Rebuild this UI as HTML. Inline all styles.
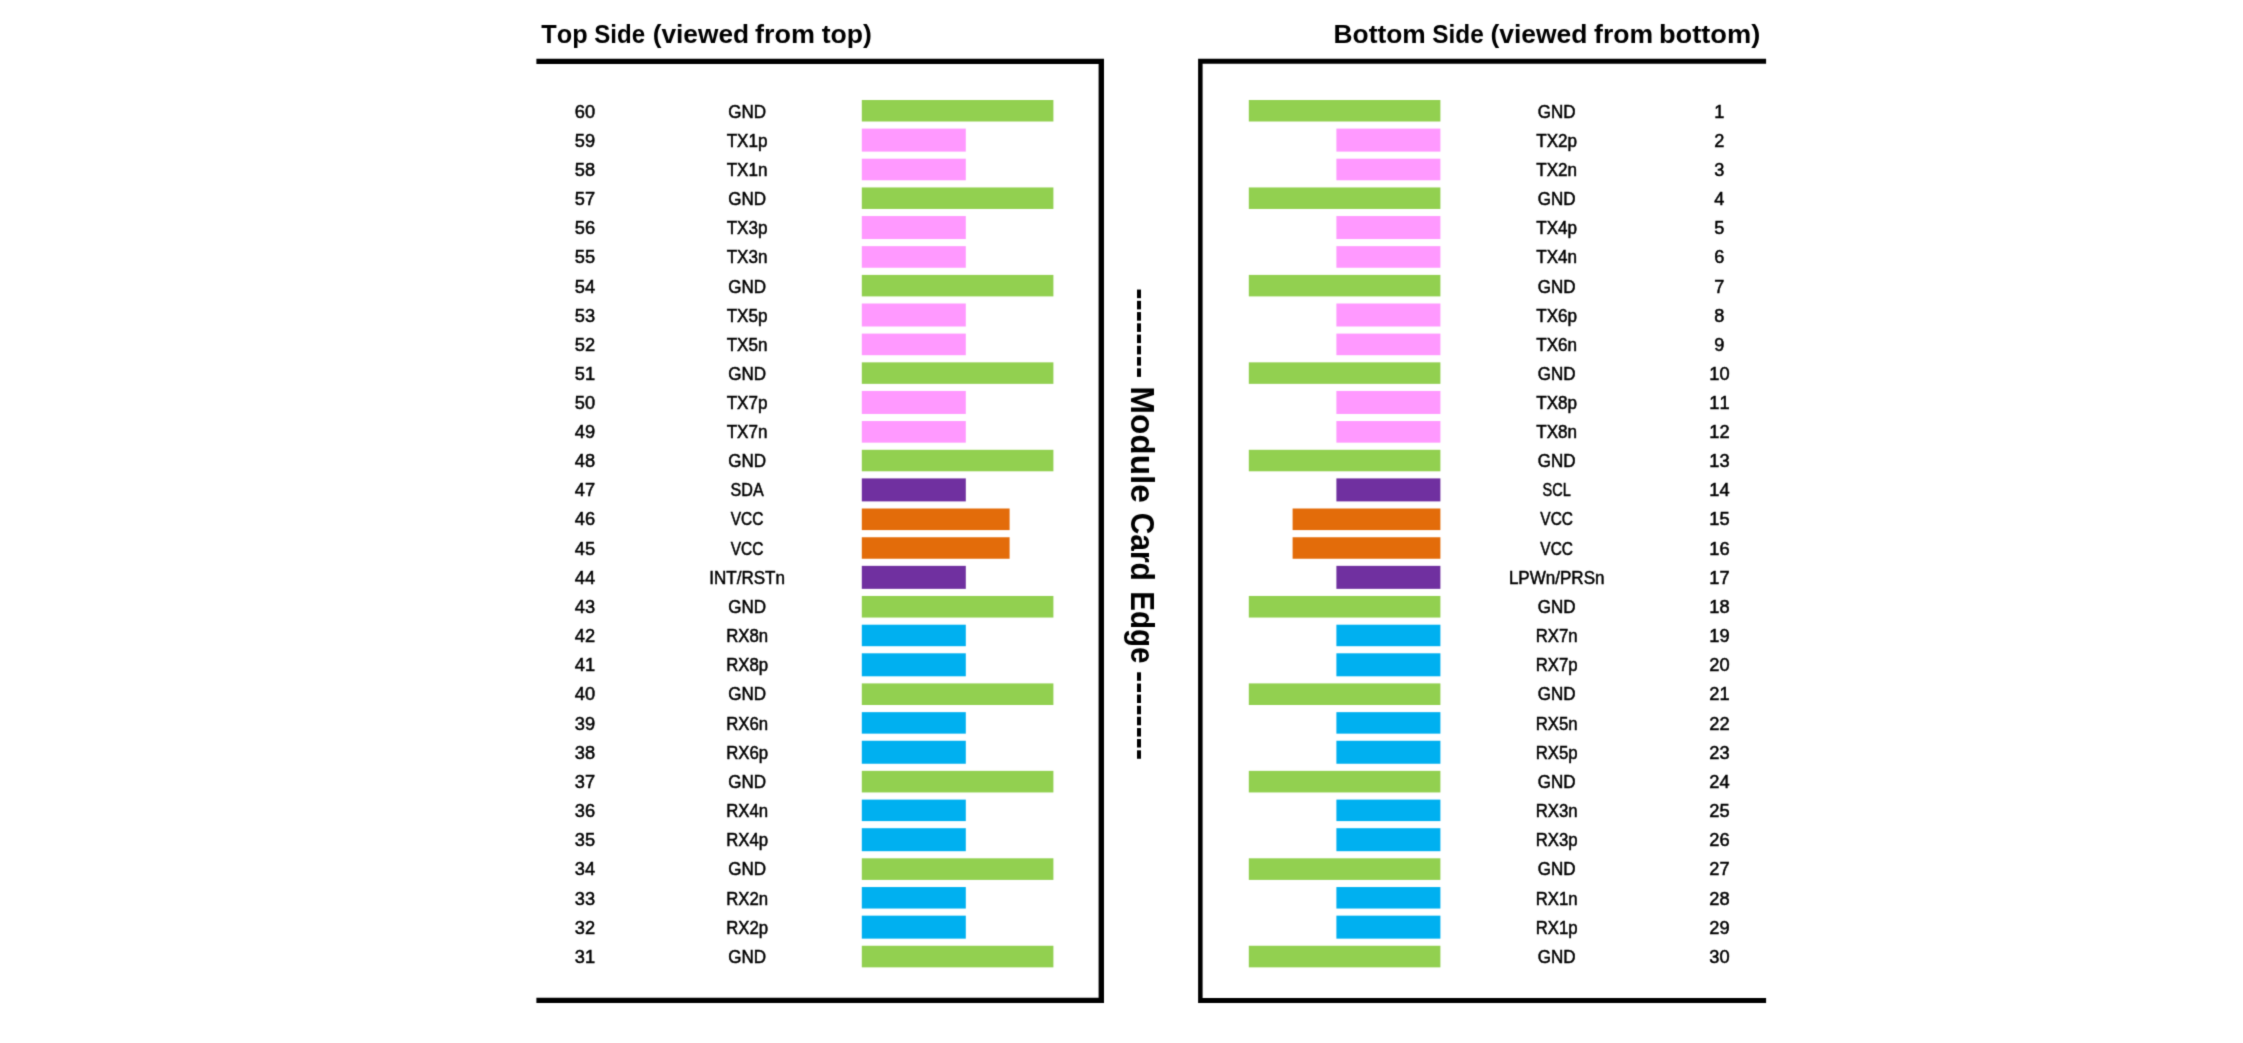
<!DOCTYPE html>
<html lang="en"><head><meta charset="utf-8"><title>Module Card Edge Pinout</title>
<style>html,body{margin:0;padding:0;background:#fff}body{width:2243px;height:1043px;overflow:hidden}svg{display:block}text{font-family:"Liberation Sans",sans-serif;fill:#000;font-kerning:none}.l{font-size:18px;text-anchor:middle;stroke:#000;stroke-width:.5px}.t{font-size:26px;font-weight:bold}.m{font-size:32.6px;font-weight:bold}</style></head><body>
<svg width="2243" height="1043" viewBox="0 0 2243 1043">
<defs><filter id="soft" filterUnits="userSpaceOnUse" x="0" y="0" width="2243" height="1043" color-interpolation-filters="sRGB"><feConvolveMatrix order="3" kernelMatrix="0.0196 0.1008 0.0196 0.1008 0.5184 0.1008 0.0196 0.1008 0.0196" edgeMode="duplicate" preserveAlpha="true"/></filter></defs>
<g filter="url(#soft)">
<rect width="2243" height="1043" fill="#fff"/>
<text class="t"><tspan x="541.32" y="43.00" textLength="46.32" lengthAdjust="spacingAndGlyphs">Top</tspan> <tspan x="594.31" y="43.00" textLength="50.82" lengthAdjust="spacingAndGlyphs">Side</tspan> <tspan x="652.69" y="43.00" textLength="96.44" lengthAdjust="spacingAndGlyphs">(viewed</tspan> <tspan x="754.94" y="43.00" textLength="59.93" lengthAdjust="spacingAndGlyphs">from</tspan> <tspan x="821.68" y="43.00" textLength="50.25" lengthAdjust="spacingAndGlyphs">top)</tspan></text>
<text class="t"><tspan x="1333.54" y="43.00" textLength="92.20" lengthAdjust="spacingAndGlyphs">Bottom</tspan> <tspan x="1432.20" y="43.00" textLength="51.54" lengthAdjust="spacingAndGlyphs">Side</tspan> <tspan x="1490.38" y="43.00" textLength="97.06" lengthAdjust="spacingAndGlyphs">(viewed</tspan> <tspan x="1594.05" y="43.00" textLength="59.00" lengthAdjust="spacingAndGlyphs">from</tspan> <tspan x="1658.90" y="43.00" textLength="101.46" lengthAdjust="spacingAndGlyphs">bottom)</tspan></text>
<path fill="#000" d="M536.4 58.8H1104V1003.1H536.4V997.8H1098.6V63.9H536.4Z"/>
<path fill="#000" d="M1766.1 58.7H1198.1V1003.1H1766.1V997.9H1202.6V63.8H1766.1Z"/>
<rect x="861.8" y="100.00" width="191.6" height="21.50" fill="#92d050"/>
<rect x="1248.8" y="100.00" width="191.6" height="21.50" fill="#92d050"/>
<rect x="861.8" y="128.60" width="104.0" height="23.00" fill="#ff99ff"/>
<rect x="1336.4" y="128.60" width="104.0" height="23.00" fill="#ff99ff"/>
<rect x="861.8" y="158.70" width="104.0" height="21.60" fill="#ff99ff"/>
<rect x="1336.4" y="158.70" width="104.0" height="21.60" fill="#ff99ff"/>
<rect x="861.8" y="187.45" width="191.6" height="21.50" fill="#92d050"/>
<rect x="1248.8" y="187.45" width="191.6" height="21.50" fill="#92d050"/>
<rect x="861.8" y="216.05" width="104.0" height="23.00" fill="#ff99ff"/>
<rect x="1336.4" y="216.05" width="104.0" height="23.00" fill="#ff99ff"/>
<rect x="861.8" y="246.15" width="104.0" height="21.60" fill="#ff99ff"/>
<rect x="1336.4" y="246.15" width="104.0" height="21.60" fill="#ff99ff"/>
<rect x="861.8" y="274.90" width="191.6" height="21.50" fill="#92d050"/>
<rect x="1248.8" y="274.90" width="191.6" height="21.50" fill="#92d050"/>
<rect x="861.8" y="303.50" width="104.0" height="23.00" fill="#ff99ff"/>
<rect x="1336.4" y="303.50" width="104.0" height="23.00" fill="#ff99ff"/>
<rect x="861.8" y="333.60" width="104.0" height="21.60" fill="#ff99ff"/>
<rect x="1336.4" y="333.60" width="104.0" height="21.60" fill="#ff99ff"/>
<rect x="861.8" y="362.35" width="191.6" height="21.50" fill="#92d050"/>
<rect x="1248.8" y="362.35" width="191.6" height="21.50" fill="#92d050"/>
<rect x="861.8" y="390.95" width="104.0" height="23.00" fill="#ff99ff"/>
<rect x="1336.4" y="390.95" width="104.0" height="23.00" fill="#ff99ff"/>
<rect x="861.8" y="421.05" width="104.0" height="21.60" fill="#ff99ff"/>
<rect x="1336.4" y="421.05" width="104.0" height="21.60" fill="#ff99ff"/>
<rect x="861.8" y="449.80" width="191.6" height="21.50" fill="#92d050"/>
<rect x="1248.8" y="449.80" width="191.6" height="21.50" fill="#92d050"/>
<rect x="861.8" y="478.40" width="104.0" height="23.00" fill="#7030a0"/>
<rect x="1336.4" y="478.40" width="104.0" height="23.00" fill="#7030a0"/>
<rect x="861.8" y="508.50" width="147.8" height="21.60" fill="#e36c0a"/>
<rect x="1292.6" y="508.50" width="147.8" height="21.60" fill="#e36c0a"/>
<rect x="861.8" y="537.25" width="147.8" height="21.50" fill="#e36c0a"/>
<rect x="1292.6" y="537.25" width="147.8" height="21.50" fill="#e36c0a"/>
<rect x="861.8" y="565.85" width="104.0" height="23.00" fill="#7030a0"/>
<rect x="1336.4" y="565.85" width="104.0" height="23.00" fill="#7030a0"/>
<rect x="861.8" y="595.95" width="191.6" height="21.60" fill="#92d050"/>
<rect x="1248.8" y="595.95" width="191.6" height="21.60" fill="#92d050"/>
<rect x="861.8" y="624.70" width="104.0" height="21.50" fill="#00b0f0"/>
<rect x="1336.4" y="624.70" width="104.0" height="21.50" fill="#00b0f0"/>
<rect x="861.8" y="653.30" width="104.0" height="23.00" fill="#00b0f0"/>
<rect x="1336.4" y="653.30" width="104.0" height="23.00" fill="#00b0f0"/>
<rect x="861.8" y="683.40" width="191.6" height="21.60" fill="#92d050"/>
<rect x="1248.8" y="683.40" width="191.6" height="21.60" fill="#92d050"/>
<rect x="861.8" y="712.15" width="104.0" height="21.50" fill="#00b0f0"/>
<rect x="1336.4" y="712.15" width="104.0" height="21.50" fill="#00b0f0"/>
<rect x="861.8" y="740.75" width="104.0" height="23.00" fill="#00b0f0"/>
<rect x="1336.4" y="740.75" width="104.0" height="23.00" fill="#00b0f0"/>
<rect x="861.8" y="770.85" width="191.6" height="21.60" fill="#92d050"/>
<rect x="1248.8" y="770.85" width="191.6" height="21.60" fill="#92d050"/>
<rect x="861.8" y="799.60" width="104.0" height="21.50" fill="#00b0f0"/>
<rect x="1336.4" y="799.60" width="104.0" height="21.50" fill="#00b0f0"/>
<rect x="861.8" y="828.20" width="104.0" height="23.00" fill="#00b0f0"/>
<rect x="1336.4" y="828.20" width="104.0" height="23.00" fill="#00b0f0"/>
<rect x="861.8" y="858.30" width="191.6" height="21.60" fill="#92d050"/>
<rect x="1248.8" y="858.30" width="191.6" height="21.60" fill="#92d050"/>
<rect x="861.8" y="887.05" width="104.0" height="21.50" fill="#00b0f0"/>
<rect x="1336.4" y="887.05" width="104.0" height="21.50" fill="#00b0f0"/>
<rect x="861.8" y="915.65" width="104.0" height="23.00" fill="#00b0f0"/>
<rect x="1336.4" y="915.65" width="104.0" height="23.00" fill="#00b0f0"/>
<rect x="861.8" y="945.75" width="191.6" height="21.60" fill="#92d050"/>
<rect x="1248.8" y="945.75" width="191.6" height="21.60" fill="#92d050"/>
<text class="l" x="584.9" y="117.60" textLength="20.3" lengthAdjust="spacingAndGlyphs">60</text>
<text class="l" x="747.1" y="117.60" textLength="37.8" lengthAdjust="spacingAndGlyphs">GND</text>
<text class="l" x="1556.7" y="117.60" textLength="37.8" lengthAdjust="spacingAndGlyphs">GND</text>
<text class="l" x="1719.4" y="117.60" textLength="10.1" lengthAdjust="spacingAndGlyphs">1</text>
<text class="l" x="584.9" y="146.60" textLength="20.3" lengthAdjust="spacingAndGlyphs">59</text>
<text class="l" x="747.1" y="146.60" textLength="40.8" lengthAdjust="spacingAndGlyphs">TX1p</text>
<text class="l" x="1556.7" y="146.60" textLength="40.8" lengthAdjust="spacingAndGlyphs">TX2p</text>
<text class="l" x="1719.4" y="146.60" textLength="10.1" lengthAdjust="spacingAndGlyphs">2</text>
<text class="l" x="584.9" y="175.60" textLength="20.3" lengthAdjust="spacingAndGlyphs">58</text>
<text class="l" x="747.1" y="175.60" textLength="40.8" lengthAdjust="spacingAndGlyphs">TX1n</text>
<text class="l" x="1556.7" y="175.60" textLength="40.8" lengthAdjust="spacingAndGlyphs">TX2n</text>
<text class="l" x="1719.4" y="175.60" textLength="10.1" lengthAdjust="spacingAndGlyphs">3</text>
<text class="l" x="584.9" y="205.05" textLength="20.3" lengthAdjust="spacingAndGlyphs">57</text>
<text class="l" x="747.1" y="205.05" textLength="37.8" lengthAdjust="spacingAndGlyphs">GND</text>
<text class="l" x="1556.7" y="205.05" textLength="37.8" lengthAdjust="spacingAndGlyphs">GND</text>
<text class="l" x="1719.4" y="205.05" textLength="10.1" lengthAdjust="spacingAndGlyphs">4</text>
<text class="l" x="584.9" y="234.05" textLength="20.3" lengthAdjust="spacingAndGlyphs">56</text>
<text class="l" x="747.1" y="234.05" textLength="40.8" lengthAdjust="spacingAndGlyphs">TX3p</text>
<text class="l" x="1556.7" y="234.05" textLength="40.8" lengthAdjust="spacingAndGlyphs">TX4p</text>
<text class="l" x="1719.4" y="234.05" textLength="10.1" lengthAdjust="spacingAndGlyphs">5</text>
<text class="l" x="584.9" y="263.05" textLength="20.3" lengthAdjust="spacingAndGlyphs">55</text>
<text class="l" x="747.1" y="263.05" textLength="40.8" lengthAdjust="spacingAndGlyphs">TX3n</text>
<text class="l" x="1556.7" y="263.05" textLength="40.8" lengthAdjust="spacingAndGlyphs">TX4n</text>
<text class="l" x="1719.4" y="263.05" textLength="10.1" lengthAdjust="spacingAndGlyphs">6</text>
<text class="l" x="584.9" y="292.50" textLength="20.3" lengthAdjust="spacingAndGlyphs">54</text>
<text class="l" x="747.1" y="292.50" textLength="37.8" lengthAdjust="spacingAndGlyphs">GND</text>
<text class="l" x="1556.7" y="292.50" textLength="37.8" lengthAdjust="spacingAndGlyphs">GND</text>
<text class="l" x="1719.4" y="292.50" textLength="10.1" lengthAdjust="spacingAndGlyphs">7</text>
<text class="l" x="584.9" y="321.50" textLength="20.3" lengthAdjust="spacingAndGlyphs">53</text>
<text class="l" x="747.1" y="321.50" textLength="40.8" lengthAdjust="spacingAndGlyphs">TX5p</text>
<text class="l" x="1556.7" y="321.50" textLength="40.8" lengthAdjust="spacingAndGlyphs">TX6p</text>
<text class="l" x="1719.4" y="321.50" textLength="10.1" lengthAdjust="spacingAndGlyphs">8</text>
<text class="l" x="584.9" y="350.50" textLength="20.3" lengthAdjust="spacingAndGlyphs">52</text>
<text class="l" x="747.1" y="350.50" textLength="40.8" lengthAdjust="spacingAndGlyphs">TX5n</text>
<text class="l" x="1556.7" y="350.50" textLength="40.8" lengthAdjust="spacingAndGlyphs">TX6n</text>
<text class="l" x="1719.4" y="350.50" textLength="10.1" lengthAdjust="spacingAndGlyphs">9</text>
<text class="l" x="584.9" y="379.95" textLength="20.3" lengthAdjust="spacingAndGlyphs">51</text>
<text class="l" x="747.1" y="379.95" textLength="37.8" lengthAdjust="spacingAndGlyphs">GND</text>
<text class="l" x="1556.7" y="379.95" textLength="37.8" lengthAdjust="spacingAndGlyphs">GND</text>
<text class="l" x="1719.4" y="379.95" textLength="20.3" lengthAdjust="spacingAndGlyphs">10</text>
<text class="l" x="584.9" y="408.95" textLength="20.3" lengthAdjust="spacingAndGlyphs">50</text>
<text class="l" x="747.1" y="408.95" textLength="40.8" lengthAdjust="spacingAndGlyphs">TX7p</text>
<text class="l" x="1556.7" y="408.95" textLength="40.8" lengthAdjust="spacingAndGlyphs">TX8p</text>
<text class="l" x="1719.4" y="408.95" textLength="20.3" lengthAdjust="spacingAndGlyphs">11</text>
<text class="l" x="584.9" y="437.95" textLength="20.3" lengthAdjust="spacingAndGlyphs">49</text>
<text class="l" x="747.1" y="437.95" textLength="40.8" lengthAdjust="spacingAndGlyphs">TX7n</text>
<text class="l" x="1556.7" y="437.95" textLength="40.8" lengthAdjust="spacingAndGlyphs">TX8n</text>
<text class="l" x="1719.4" y="437.95" textLength="20.3" lengthAdjust="spacingAndGlyphs">12</text>
<text class="l" x="584.9" y="467.40" textLength="20.3" lengthAdjust="spacingAndGlyphs">48</text>
<text class="l" x="747.1" y="467.40" textLength="37.8" lengthAdjust="spacingAndGlyphs">GND</text>
<text class="l" x="1556.7" y="467.40" textLength="37.8" lengthAdjust="spacingAndGlyphs">GND</text>
<text class="l" x="1719.4" y="467.40" textLength="20.3" lengthAdjust="spacingAndGlyphs">13</text>
<text class="l" x="584.9" y="496.40" textLength="20.3" lengthAdjust="spacingAndGlyphs">47</text>
<text class="l" x="747.1" y="496.40" textLength="33.1" lengthAdjust="spacingAndGlyphs">SDA</text>
<text class="l" x="1556.7" y="496.40" textLength="28.2" lengthAdjust="spacingAndGlyphs">SCL</text>
<text class="l" x="1719.4" y="496.40" textLength="20.3" lengthAdjust="spacingAndGlyphs">14</text>
<text class="l" x="584.9" y="525.40" textLength="20.3" lengthAdjust="spacingAndGlyphs">46</text>
<text class="l" x="747.1" y="525.40" textLength="32.7" lengthAdjust="spacingAndGlyphs">VCC</text>
<text class="l" x="1556.7" y="525.40" textLength="32.7" lengthAdjust="spacingAndGlyphs">VCC</text>
<text class="l" x="1719.4" y="525.40" textLength="20.3" lengthAdjust="spacingAndGlyphs">15</text>
<text class="l" x="584.9" y="554.85" textLength="20.3" lengthAdjust="spacingAndGlyphs">45</text>
<text class="l" x="747.1" y="554.85" textLength="32.7" lengthAdjust="spacingAndGlyphs">VCC</text>
<text class="l" x="1556.7" y="554.85" textLength="32.7" lengthAdjust="spacingAndGlyphs">VCC</text>
<text class="l" x="1719.4" y="554.85" textLength="20.3" lengthAdjust="spacingAndGlyphs">16</text>
<text class="l" x="584.9" y="583.85" textLength="20.3" lengthAdjust="spacingAndGlyphs">44</text>
<text class="l" x="747.1" y="583.85" textLength="75.7" lengthAdjust="spacingAndGlyphs">INT/RSTn</text>
<text class="l" x="1556.7" y="583.85" textLength="95.6" lengthAdjust="spacingAndGlyphs">LPWn/PRSn</text>
<text class="l" x="1719.4" y="583.85" textLength="20.3" lengthAdjust="spacingAndGlyphs">17</text>
<text class="l" x="584.9" y="612.85" textLength="20.3" lengthAdjust="spacingAndGlyphs">43</text>
<text class="l" x="747.1" y="612.85" textLength="37.8" lengthAdjust="spacingAndGlyphs">GND</text>
<text class="l" x="1556.7" y="612.85" textLength="37.8" lengthAdjust="spacingAndGlyphs">GND</text>
<text class="l" x="1719.4" y="612.85" textLength="20.3" lengthAdjust="spacingAndGlyphs">18</text>
<text class="l" x="584.9" y="642.30" textLength="20.3" lengthAdjust="spacingAndGlyphs">42</text>
<text class="l" x="747.1" y="642.30" textLength="41.9" lengthAdjust="spacingAndGlyphs">RX8n</text>
<text class="l" x="1556.7" y="642.30" textLength="41.9" lengthAdjust="spacingAndGlyphs">RX7n</text>
<text class="l" x="1719.4" y="642.30" textLength="20.3" lengthAdjust="spacingAndGlyphs">19</text>
<text class="l" x="584.9" y="671.30" textLength="20.3" lengthAdjust="spacingAndGlyphs">41</text>
<text class="l" x="747.1" y="671.30" textLength="41.9" lengthAdjust="spacingAndGlyphs">RX8p</text>
<text class="l" x="1556.7" y="671.30" textLength="41.9" lengthAdjust="spacingAndGlyphs">RX7p</text>
<text class="l" x="1719.4" y="671.30" textLength="20.3" lengthAdjust="spacingAndGlyphs">20</text>
<text class="l" x="584.9" y="700.30" textLength="20.3" lengthAdjust="spacingAndGlyphs">40</text>
<text class="l" x="747.1" y="700.30" textLength="37.8" lengthAdjust="spacingAndGlyphs">GND</text>
<text class="l" x="1556.7" y="700.30" textLength="37.8" lengthAdjust="spacingAndGlyphs">GND</text>
<text class="l" x="1719.4" y="700.30" textLength="20.3" lengthAdjust="spacingAndGlyphs">21</text>
<text class="l" x="584.9" y="729.75" textLength="20.3" lengthAdjust="spacingAndGlyphs">39</text>
<text class="l" x="747.1" y="729.75" textLength="41.9" lengthAdjust="spacingAndGlyphs">RX6n</text>
<text class="l" x="1556.7" y="729.75" textLength="41.9" lengthAdjust="spacingAndGlyphs">RX5n</text>
<text class="l" x="1719.4" y="729.75" textLength="20.3" lengthAdjust="spacingAndGlyphs">22</text>
<text class="l" x="584.9" y="758.75" textLength="20.3" lengthAdjust="spacingAndGlyphs">38</text>
<text class="l" x="747.1" y="758.75" textLength="41.9" lengthAdjust="spacingAndGlyphs">RX6p</text>
<text class="l" x="1556.7" y="758.75" textLength="41.9" lengthAdjust="spacingAndGlyphs">RX5p</text>
<text class="l" x="1719.4" y="758.75" textLength="20.3" lengthAdjust="spacingAndGlyphs">23</text>
<text class="l" x="584.9" y="787.75" textLength="20.3" lengthAdjust="spacingAndGlyphs">37</text>
<text class="l" x="747.1" y="787.75" textLength="37.8" lengthAdjust="spacingAndGlyphs">GND</text>
<text class="l" x="1556.7" y="787.75" textLength="37.8" lengthAdjust="spacingAndGlyphs">GND</text>
<text class="l" x="1719.4" y="787.75" textLength="20.3" lengthAdjust="spacingAndGlyphs">24</text>
<text class="l" x="584.9" y="817.20" textLength="20.3" lengthAdjust="spacingAndGlyphs">36</text>
<text class="l" x="747.1" y="817.20" textLength="41.9" lengthAdjust="spacingAndGlyphs">RX4n</text>
<text class="l" x="1556.7" y="817.20" textLength="41.9" lengthAdjust="spacingAndGlyphs">RX3n</text>
<text class="l" x="1719.4" y="817.20" textLength="20.3" lengthAdjust="spacingAndGlyphs">25</text>
<text class="l" x="584.9" y="846.20" textLength="20.3" lengthAdjust="spacingAndGlyphs">35</text>
<text class="l" x="747.1" y="846.20" textLength="41.9" lengthAdjust="spacingAndGlyphs">RX4p</text>
<text class="l" x="1556.7" y="846.20" textLength="41.9" lengthAdjust="spacingAndGlyphs">RX3p</text>
<text class="l" x="1719.4" y="846.20" textLength="20.3" lengthAdjust="spacingAndGlyphs">26</text>
<text class="l" x="584.9" y="875.20" textLength="20.3" lengthAdjust="spacingAndGlyphs">34</text>
<text class="l" x="747.1" y="875.20" textLength="37.8" lengthAdjust="spacingAndGlyphs">GND</text>
<text class="l" x="1556.7" y="875.20" textLength="37.8" lengthAdjust="spacingAndGlyphs">GND</text>
<text class="l" x="1719.4" y="875.20" textLength="20.3" lengthAdjust="spacingAndGlyphs">27</text>
<text class="l" x="584.9" y="904.65" textLength="20.3" lengthAdjust="spacingAndGlyphs">33</text>
<text class="l" x="747.1" y="904.65" textLength="41.9" lengthAdjust="spacingAndGlyphs">RX2n</text>
<text class="l" x="1556.7" y="904.65" textLength="41.9" lengthAdjust="spacingAndGlyphs">RX1n</text>
<text class="l" x="1719.4" y="904.65" textLength="20.3" lengthAdjust="spacingAndGlyphs">28</text>
<text class="l" x="584.9" y="933.65" textLength="20.3" lengthAdjust="spacingAndGlyphs">32</text>
<text class="l" x="747.1" y="933.65" textLength="41.9" lengthAdjust="spacingAndGlyphs">RX2p</text>
<text class="l" x="1556.7" y="933.65" textLength="41.9" lengthAdjust="spacingAndGlyphs">RX1p</text>
<text class="l" x="1719.4" y="933.65" textLength="20.3" lengthAdjust="spacingAndGlyphs">29</text>
<text class="l" x="584.9" y="962.65" textLength="20.3" lengthAdjust="spacingAndGlyphs">31</text>
<text class="l" x="747.1" y="962.65" textLength="37.8" lengthAdjust="spacingAndGlyphs">GND</text>
<text class="l" x="1556.7" y="962.65" textLength="37.8" lengthAdjust="spacingAndGlyphs">GND</text>
<text class="l" x="1719.4" y="962.65" textLength="20.3" lengthAdjust="spacingAndGlyphs">30</text>
<g transform="translate(1130.6 0) rotate(90)">
<text class="m"><tspan x="288.28" y="0.60" textLength="90.07" lengthAdjust="spacingAndGlyphs">--------</tspan> <tspan x="386.17" y="0.00" textLength="116.77" lengthAdjust="spacingAndGlyphs">Module</tspan> <tspan x="512.67" y="0.00" textLength="68.20" lengthAdjust="spacingAndGlyphs">Card</tspan> <tspan x="591.22" y="0.00" textLength="72.18" lengthAdjust="spacingAndGlyphs">Edge</tspan> <tspan x="671.09" y="0.60" textLength="89.04" lengthAdjust="spacingAndGlyphs">--------</tspan></text>
</g>
</g>
</svg></body></html>
